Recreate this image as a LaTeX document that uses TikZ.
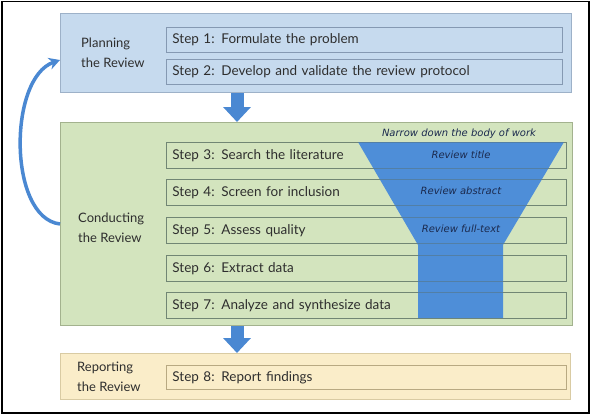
\documentclass[tikz,border=0pt]{standalone}
\usepackage{fontspec}
\setmainfont{Lato}
\newfontfamily\funnelfont{DejaVu Sans}
\usetikzlibrary{arrows.meta}
\definecolor{planfill}{HTML}{C6DAEE}
\definecolor{planline}{HTML}{9DB1C8}
\definecolor{plansteplink}{HTML}{8599B2}
\definecolor{condfill}{HTML}{D3E4BE}
\definecolor{condline}{HTML}{A3B28E}
\definecolor{condstepline}{HTML}{8D9C74}
\definecolor{repfill}{HTML}{FAEDC9}
\definecolor{repline}{HTML}{D9CBA3}
\definecolor{repstepline}{HTML}{B8A982}
\definecolor{arrowblue}{HTML}{4A88D2}
\definecolor{funnelblue}{HTML}{4E8ED8}
\definecolor{txt}{HTML}{2E2E2E}
\definecolor{funneltxt}{HTML}{1B2A4E}
\tikzset{
  phasebox/.style={rectangle, line width=1pt, anchor=north west, inner sep=0pt},
  stepbox/.style={rectangle, line width=0.9pt, anchor=north west, inner xsep=6pt, inner ysep=0pt,
    text width=#1, align=left, font=\fontsize{13.5}{15}\selectfont, text=txt},
  phaselabel/.style={anchor=west, align=left, font=\fontsize{13}{20}\selectfont, text=txt, inner sep=0pt},
  funnellabel/.style={font=\funnelfont\fontsize{10}{11}\selectfont\itshape, text=funneltxt, inner sep=0pt},
  blockarrow/.style={draw=arrowblue, line width=13pt, -{Triangle[width=27pt,length=15pt]}},
}
\begin{document}
\begin{tikzpicture}[x=1pt,y=-1pt]
\useasboundingbox (0,0) rectangle (591,415);
\fill[white] (0,0) rectangle (591,415);
\draw[black, line width=1.6pt] (2,1.5) rectangle (589,413);

% phases
\node[phasebox, draw=planline, fill=planfill, minimum width=511pt, minimum height=79pt] (plan) at (60,13) {};
\node[phasebox, draw=condline, fill=condfill, minimum width=512pt, minimum height=203pt] (cond) at (60,122) {};
\node[phasebox, draw=repline, fill=repfill, minimum width=510pt, minimum height=46pt] (rep) at (60,353) {};

% phase labels
\node[phaselabel] (planlab) at (81,53) {Planning\\the Review};
\node[phaselabel] (condlab) at (78,228) {Conducting\\the Review};
\node[phaselabel] (replab) at (77,377) {Reporting\\the Review};

% steps
\node[stepbox=384pt, draw=plansteplink, fill=planfill, minimum height=25pt] (s1) at (166,27) {Step 1: Formulate the problem};
\node[stepbox=384pt, draw=plansteplink, fill=planfill, minimum height=25pt] (s2) at (166,58.5) {Step 2: Develop and validate the review protocol};
\node[stepbox=388pt, draw=condstepline, fill=condfill, minimum height=26pt] (s3) at (166,142) {Step 3: Search the literature};
\node[stepbox=388pt, draw=condstepline, fill=condfill, minimum height=26pt] (s4) at (166,179) {Step 4: Screen for inclusion};
\node[stepbox=388pt, draw=condstepline, fill=condfill, minimum height=26pt] (s5) at (166,217) {Step 5: Assess quality};
\node[stepbox=388pt, draw=condstepline, fill=condfill, minimum height=26pt] (s6) at (166,255) {Step 6: Extract data};
\node[stepbox=388pt, draw=condstepline, fill=condfill, minimum height=26pt] (s7) at (166,292) {Step 7: Analyze and synthesize data};
\node[stepbox=388pt, draw=repstepline, fill=repfill, minimum height=24pt] (s8) at (166,365) {Step 8: Report findings};

% funnel
\fill[funnelblue] (358,142) -- (564,142) -- (503,245) -- (503,318) -- (418,318) -- (418,245) -- cycle;
\foreach \s in {s3,s4,s5,s6,s7}{
  \draw[condstepline!60!funnelblue!75!black, line width=0.9pt, opacity=0.5] (\s.north west) rectangle (\s.south east);
}
\node[funnellabel] (narrow) at (459,134) {Narrow down the body of work};
\node[funnellabel] (rtitle) at (461,155) {Review title};
\node[funnellabel] (rabs) at (461,191) {Review abstract};
\node[funnellabel] (rfull) at (461,229) {Review full-text};

% block arrows
\coordinate (ax) at (237,0);
\draw[blockarrow] (plan.south -| ax) -- (cond.north -| ax);
\draw[blockarrow] (cond.south -| ax) -- (rep.north -| ax);

% loop-back arrow
\draw[arrowblue, line width=3.5pt, -{Stealth[length=11pt,width=12pt]}]
  (cond.west) .. controls (8,218) and (8,78) .. ([yshift=-7pt]plan.west);
\end{tikzpicture}
\end{document}
